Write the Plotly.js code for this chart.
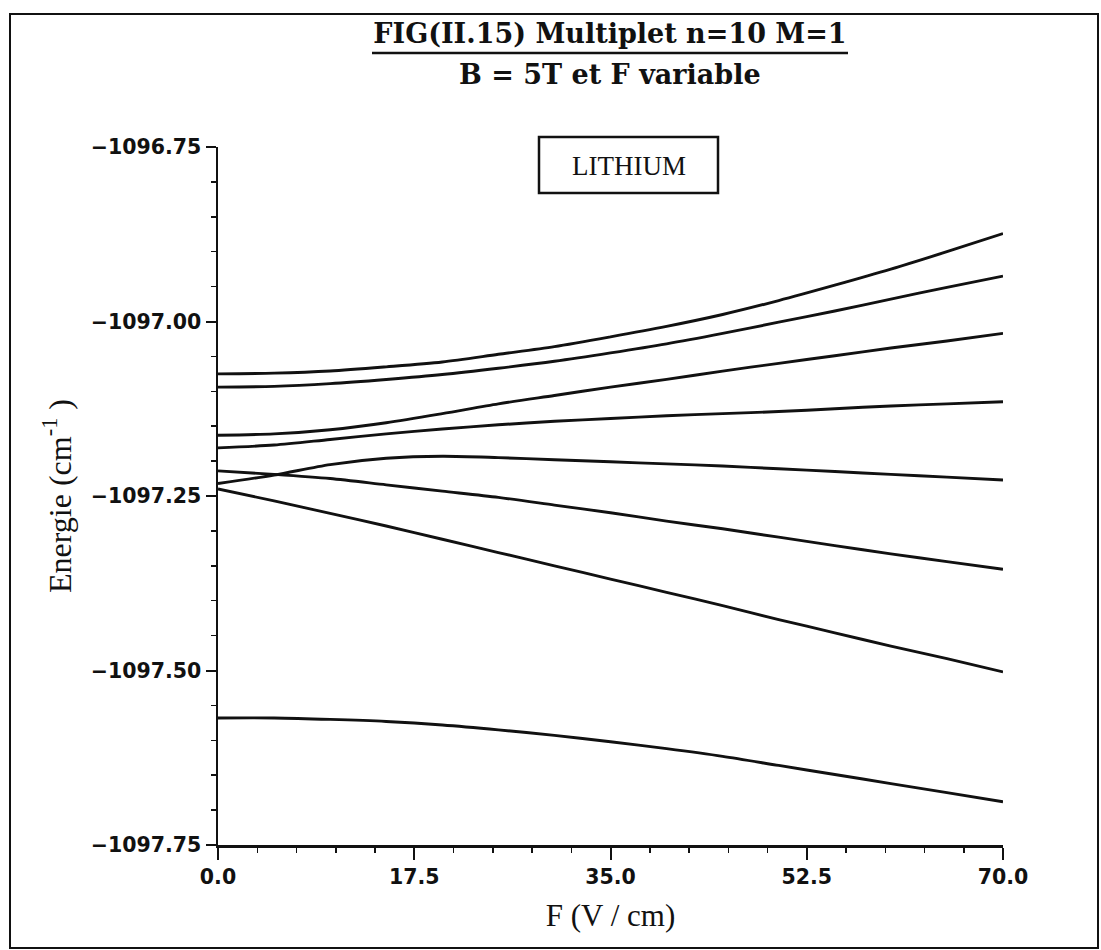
<!DOCTYPE html>
<html>
<head>
<meta charset="utf-8">
<script src="https://cdn.plot.ly/plotly-3.0.1.min.js"></script>
<style>html,body{margin:0;padding:0;background:#fff;}#chart{width:1101px;height:950px;}</style>
</head>
<body>
<div id="chart"></div>
<script>
// Field F (V/cm)
const F = [0, 5, 10, 15, 20, 25, 30, 35, 40, 45, 50, 55, 60, 65, 70];
// Energy levels (cm^-1), top to bottom at F = 70
const level1 = [-1097.075, -1097.074, -1097.071, -1097.065, -1097.058, -1097.047, -1097.036, -1097.022, -1097.007, -1096.990, -1096.970, -1096.948, -1096.925, -1096.900, -1096.874];
const level2 = [-1097.094, -1097.093, -1097.089, -1097.083, -1097.076, -1097.067, -1097.057, -1097.045, -1097.032, -1097.017, -1097.001, -1096.985, -1096.968, -1096.951, -1096.935];
const level3 = [-1097.163, -1097.161, -1097.155, -1097.145, -1097.132, -1097.118, -1097.106, -1097.094, -1097.083, -1097.071, -1097.060, -1097.049, -1097.038, -1097.028, -1097.017];
const level4 = [-1097.181, -1097.177, -1097.169, -1097.161, -1097.154, -1097.148, -1097.143, -1097.139, -1097.135, -1097.132, -1097.129, -1097.125, -1097.121, -1097.118, -1097.115];
const level5 = [-1097.232, -1097.220, -1097.205, -1097.196, -1097.193, -1097.195, -1097.198, -1097.201, -1097.204, -1097.207, -1097.211, -1097.215, -1097.219, -1097.223, -1097.227];
const level6 = [-1097.214, -1097.219, -1097.225, -1097.234, -1097.243, -1097.252, -1097.263, -1097.274, -1097.286, -1097.297, -1097.309, -1097.321, -1097.333, -1097.344, -1097.355];
const level7 = [-1097.240, -1097.257, -1097.275, -1097.293, -1097.312, -1097.331, -1097.350, -1097.369, -1097.388, -1097.407, -1097.427, -1097.446, -1097.465, -1097.483, -1097.502];
const level8 = [-1097.568, -1097.568, -1097.570, -1097.573, -1097.578, -1097.585, -1097.593, -1097.602, -1097.612, -1097.623, -1097.636, -1097.649, -1097.662, -1097.675, -1097.688];

const xTickVals = [0, 17.5, 35, 52.5, 70];
const xTickText = ['0.0', '17.5', '35.0', '52.5', '70.0'];
const yTickVals = [-1097.75, -1097.5, -1097.25, -1097.0, -1096.75];
const yTickText = ['\u22121097.75', '\u22121097.50', '\u22121097.25', '\u22121097.00', '\u22121096.75'];

const levels = [level1, level2, level3, level4, level5, level6, level7, level8];

const traces = levels.map((lv, i) => ({
  x: F, y: lv, type: 'scatter', mode: 'lines',
  name: 'niveau ' + (i + 1),
  line: {color: '#111', width: 2.9, shape: 'spline', smoothing: 0.8},
  hoverinfo: 'x+y'
}));

// pixel helpers for decoration placement (plot area 218..1003 x 147..845)
const W = 1101, H = 950;
const L = 218, R = 1003, T = 147, B = 845;
const px = v => (v - L) / (R - L);
const py = v => (B - v) / (B - T);

const tickFont = {family: 'DejaVu Sans, sans-serif', size: 20.5, color: '#111', weight: 'bold'};
const titleFont = {family: 'DejaVu Serif, serif', size: 27, color: '#111', weight: 'bold'};

const layout = {
  width: W, height: H,
  margin: {l: L, r: W - R, t: T, b: H - B},
  paper_bgcolor: '#fff', plot_bgcolor: '#fff',
  showlegend: false,
  title: {text: 'FIG(II.15) Multiplet n=10 M=1', font: titleFont,
          xref: 'container', yref: 'container', x: 610 / W, y: 1 - 34 / H,
          xanchor: 'center', yanchor: 'middle'},
  xaxis: {
    range: [0, 70], showgrid: false, zeroline: false,
    showline: true, linecolor: '#111', linewidth: 2.5,
    ticks: 'outside', ticklen: 12, tickwidth: 2, tickcolor: '#111',
    tickvals: xTickVals, ticktext: xTickText, tickfont: tickFont,
    minor: {dtick: 3.5, tick0: 0, ticks: 'outside', ticklen: 5, tickwidth: 1.5, tickcolor: '#111', showgrid: false},
    title: {text: 'F (V / cm)', font: {family: 'Liberation Serif, serif', size: 31, color: '#111'}, standoff: 16}
  },
  yaxis: {
    range: [-1097.75, -1096.75], showgrid: false, zeroline: false,
    showline: true, linecolor: '#111', linewidth: 2.5,
    ticks: 'outside', ticklen: 10, tickwidth: 2, tickcolor: '#111',
    tickvals: yTickVals, ticktext: yTickText, tickfont: tickFont,
    minor: {dtick: 0.05, tick0: -1097.75, ticks: 'outside', ticklen: 5, tickwidth: 1.5, tickcolor: '#111', showgrid: false},
    title: {text: 'Energie (cm<sup>-1</sup> )', font: {family: 'Liberation Serif, serif', size: 32, color: '#111'}, standoff: 10}
  },
  shapes: [
    {type: 'rect', xref: 'paper', yref: 'paper', x0: px(10), x1: px(1098), y0: py(948), y1: py(14),
     line: {color: '#111', width: 2}, fillcolor: 'rgba(0,0,0,0)'},
    {type: 'line', xref: 'paper', yref: 'paper', x0: px(372), x1: px(848), y0: py(53), y1: py(53),
     line: {color: '#111', width: 2.5}},
    {type: 'rect', xref: 'paper', yref: 'paper', x0: px(539), x1: px(718), y0: py(193), y1: py(137),
     line: {color: '#111', width: 2.5}, fillcolor: '#fff'}
  ],
  annotations: [
    {text: 'B = 5T et F variable', xref: 'paper', yref: 'paper', x: px(610), y: py(74),
     xanchor: 'center', yanchor: 'middle', showarrow: false, font: titleFont},
    {text: 'LITHIUM', xref: 'paper', yref: 'paper', x: px(628.5), y: py(166),
     xanchor: 'center', yanchor: 'middle', showarrow: false,
     font: {family: 'Liberation Serif, serif', size: 27, color: '#111'}}
  ]
};

Plotly.newPlot('chart', traces, layout, {displayModeBar: false, staticPlot: true});
</script>
</body>
</html>
